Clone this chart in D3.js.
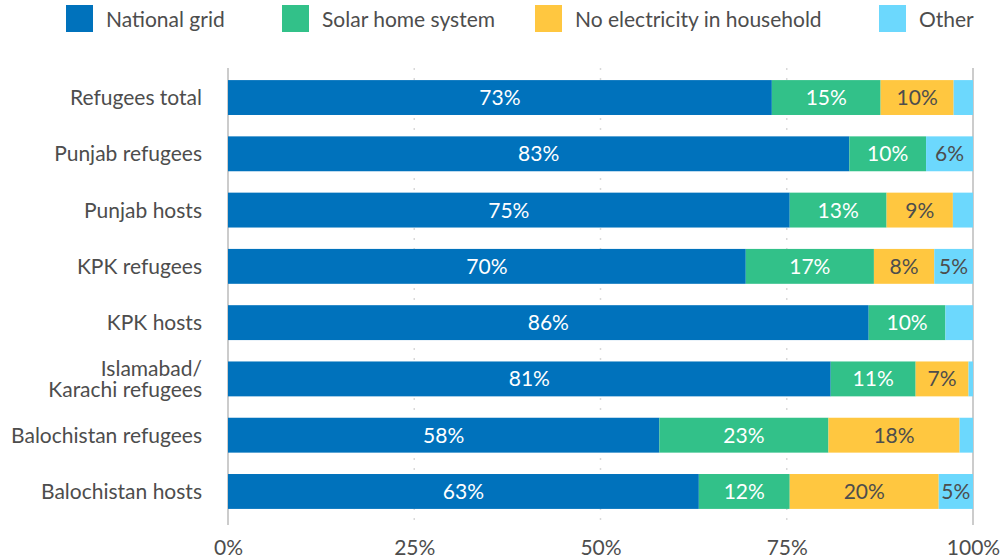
<!DOCTYPE html>
<html><head><meta charset="utf-8">
<script src="https://cdn.jsdelivr.net/npm/d3@7"></script>
<style>body{margin:0;background:#fff;} svg{display:block;font-family:Lato, "Open Sans", sans-serif;}</style>
</head><body>
<svg id="c" width="1003" height="559"></svg>
<script>
const categories = ["Refugees total","Punjab refugees","Punjab hosts","KPK refugees","KPK hosts","Islamabad/\nKarachi refugees","Balochistan refugees","Balochistan hosts"];
const seriesNames = ["National grid","Solar home system","No electricity in household","Other"];
const nationalGrid = [73.0, 83.4, 75.4, 69.5, 86.0, 80.9, 57.9, 63.2];
const solarHome    = [14.6, 10.3, 13.0, 17.2, 10.3, 11.4, 22.7, 12.2];
const noElectric   = [9.8, 0, 8.9, 8.1, 0, 7.1, 17.6, 20.0];
const other        = [2.6, 6.3, 2.7, 5.2, 3.7, 0.6, 1.8, 4.6];
const tickValues = [0, 25, 50, 75, 100];

const colors = ["#0072BC", "#32C189", "#FFC740", "#6CD8FD"];
const textColors = ["#ffffff", "#ffffff", "#4d4d4d", "#4d4d4d"];
const seriesVals = [nationalGrid, solarHome, noElectric, other];

const svg = d3.select("#c");
const x = d3.scaleLinear().domain([0,100]).range([228, 973]);
const y = d3.scaleBand().domain(categories).range([69.4, 519.6]).paddingInner(0.38).paddingOuter(0.19);

// gridlines
const grid = svg.append("g");
tickValues.forEach(t => {
  grid.append("line").attr("x1", x(t)).attr("x2", x(t)).attr("y1", 68).attr("y2", 525)
    .attr("stroke", (t===0||t===100) ? "#cccccc" : "#d9d9d9")
    .attr("stroke-width", (t===0||t===100) ? 2 : 1.5)
    .attr("stroke-dasharray", (t===0||t===100) ? null : "2,8");
});

// x axis labels
const xAxis = d3.axisBottom(x).tickValues(tickValues).tickFormat(d => d + "%").tickSize(0).tickPadding(0);
const ax = svg.append("g").attr("transform", "translate(0,535)").call(xAxis);
ax.select(".domain").remove();
ax.selectAll("text").attr("font-size", 21).attr("fill", "#4d4d4d").attr("font-family", "Lato").attr("dy", "0.95em");

// stack
const rows = categories.map((c, i) => {
  const r = {cat: c};
  seriesNames.forEach((s, j) => r[s] = seriesVals[j][i]);
  return r;
});
const stack = d3.stack().keys(seriesNames)(rows);

stack.forEach((layer, j) => {
  const g = svg.append("g");
  g.selectAll("rect").data(layer).enter().append("rect")
    .attr("x", d => x(d[0])).attr("width", d => x(d[1]) - x(d[0]))
    .attr("y", d => y(d.data.cat)).attr("height", y.bandwidth())
    .attr("fill", colors[j]);
  g.selectAll("text").data(layer.filter(d => Math.round(d[1]-d[0]) >= 5)).enter().append("text")
    .attr("x", d => (x(d[0]) + x(d[1])) / 2)
    .attr("y", d => y(d.data.cat) + y.bandwidth()/2)
    .attr("dy", "0.36em").attr("text-anchor", "middle")
    .attr("font-size", 21).attr("fill", textColors[j])
    .text(d => Math.round(d[1]-d[0]) + "%");
});

// category labels
const yl = svg.append("g");
categories.forEach(c => {
  const lines = c.split("\n");
  const cy = y(c) + y.bandwidth()/2;
  const t = yl.append("text").attr("text-anchor", "end").attr("font-size", 21).attr("fill", "#4d4d4d");
  lines.forEach((ln, k) => {
    t.append("tspan").attr("x", 202).attr("y", cy + (k - (lines.length-1)/2) * 21).attr("dy", "0.36em").text(ln);
  });
});

// legend
const legendX = [66, 282, 535, 879];
const lg = svg.append("g");
seriesNames.forEach((s, j) => {
  lg.append("rect").attr("x", legendX[j]).attr("y", 5).attr("width", 27).attr("height", 27).attr("fill", colors[j]);
  lg.append("text").attr("x", legendX[j] + 40).attr("y", 19).attr("dy", "0.36em")
    .attr("font-size", 21).attr("fill", "#4d4d4d").text(s);
});
</script>
</body></html>
